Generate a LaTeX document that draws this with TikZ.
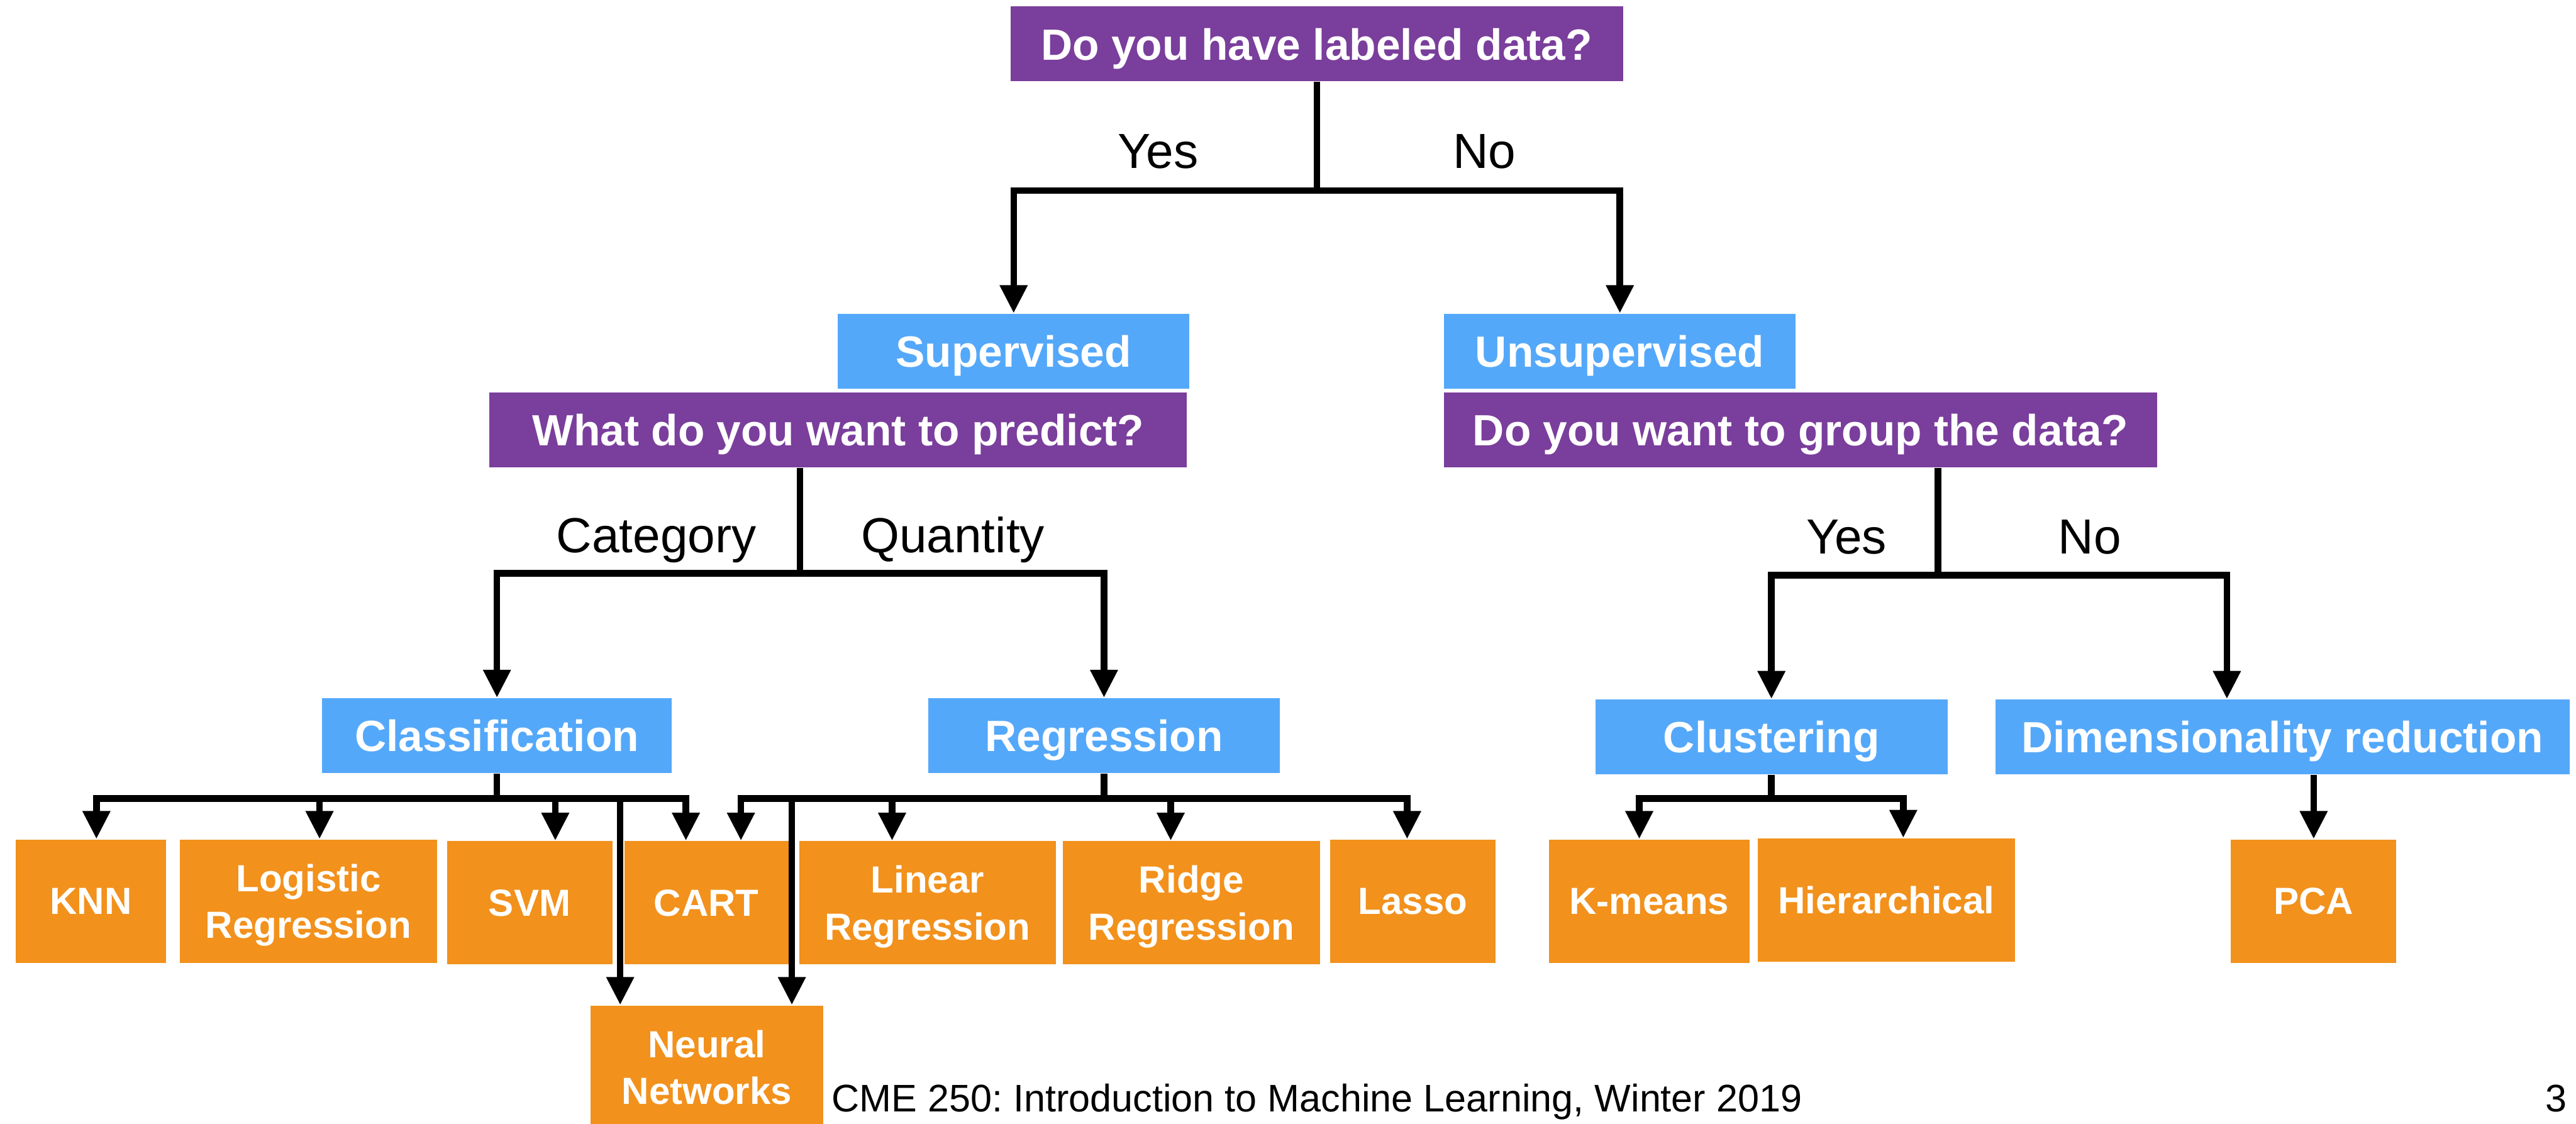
\documentclass[tikz,border=0pt]{standalone}
\usepackage{fontspec}
\setmainfont{Liberation Sans}
\usetikzlibrary{arrows.meta}
\definecolor{qpurple}{HTML}{7A3E9C}
\definecolor{catblue}{HTML}{54A8FA}
\definecolor{algorange}{HTML}{F2911C}
\frenchspacing
\begin{document}
\begin{tikzpicture}[x=0.5pt,y=-0.5pt,
  sz/.style 2 args={minimum width={#1*0.5pt},minimum height={#2*0.5pt}},
  basebox/.style={inner sep=0pt, text=white, text depth=0pt, align=center},
  question/.style={basebox, fill=qpurple, font=\fontsize{13.3}{16}\bfseries},
  category/.style={basebox, fill=catblue, font=\fontsize{13.3}{16}\bfseries},
  method/.style={basebox, fill=algorange, font=\fontsize{11.5}{14.25}\bfseries},
  branch/.style={anchor=base, inner sep=0pt, font=\fontsize{15}{18}\selectfont},
  link/.style={line width=2pt, draw=black},
  arr/.style={link, -{Triangle[width=8pt,length=8.5pt]}},
  arr2/.style={link, {Triangle[width=8pt,length=8.5pt]}-{Triangle[width=8pt,length=8.5pt]}},
]
\useasboundingbox (0,0) rectangle (1568,684);

% questions and categories
\node[question, sz={373}{45.5}] (top) at (801.5,26.75) {Do you have labeled data?};
\node[category, sz={214}{45.5}] (sup) at (617,213.75) {Supervised};
\node[category, sz={214}{45.5}] (unsup) at (986,213.75) {Unsupervised};
\node[question, sz={424.5}{45.5}] (predict) at (510.25,261.75) {What do you want to predict?};
\node[question, sz={434}{45.5}] (group) at (1096,261.75) {Do you want to group the data?};
\node[category, sz={213}{45.5}] (class) at (302.5,447.75) {Classification};
\node[category, sz={214}{45.5}] (regr) at (672,447.75) {Regression};
\node[category, sz={214.5}{45.5}] (clust) at (1078.25,448.5) {Clustering};
\node[category, sz={349.5}{45.5}] (dimred) at (1389.25,448.5) {Dimensionality reduction};

% methods
\node[method, sz={91.4}{75}] (knn) at (55.3,548.5) {KNN};
\node[method, sz={156.5}{75}] (logreg) at (187.75,548.5) {Logistic\\Regression};
\node[method, sz={100.7}{75}] (svm) at (322.35,549.5) {SVM};
\node[method, sz={100}{75}] (cart) at (430,549.5) {CART};
\node[method, sz={156.3}{75}] (linreg) at (564.55,549.5) {Linear\\Regression};
\node[method, sz={156.4}{75}] (ridge) at (725.2,549.5) {Ridge\\Regression};
\node[method, sz={101}{75}] (lasso) at (860,548.5) {Lasso};
\node[method, sz={141.5}{75}] (nn) at (430.25,649.5) {Neural\\Networks};
\node[method, sz={122.3}{75}] (kmeans) at (1003.85,548.5) {K-means};
\node[method, sz={156.4}{75}] (hier) at (1148.2,547.8) {Hierarchical};
\node[method, sz={100.6}{75}] (pca) at (1408.3,548.5) {PCA};

% labeled data?
\coordinate (yn) at (801.5,116);
\draw[link] (top.south) -- (yn);
\draw[arr2] (sup.north) |- (yn) -| (unsup.north);
\node[branch] (yes1) at (705,102.4) {Yes};
\node[branch] (no1) at (903.5,102.4) {No};

% what to predict?
\coordinate (cq) at (487,349);
\draw[link] (cq |- predict.south) -- (cq);
\draw[arr2] (class.north) |- (cq) -| (regr.north);
\node[branch] (catlbl) at (399.5,336.2) {Category};
\node[branch] (quantlbl) at (580,336.2) {Quantity};

% group the data?
\coordinate (gq) at (1179.7,350);
\coordinate (dr) at (1355.5,350);
\draw[link] (gq |- group.south) -- (gq);
\draw[arr2] (clust.north) |- (gq) -- (dr) -- (dr |- dimred.north);
\node[branch] (yes2) at (1124,337) {Yes};
\node[branch] (no2) at (1272,337) {No};

% classification methods
\coordinate (kc) at (58.7,486);
\coordinate (lc) at (194.5,486);
\coordinate (sc) at (338,486);
\coordinate (nc1) at (377.5,486);
\coordinate (cc1) at (417.5,486);
\draw[link] (class.south) -- (class.south |- kc);
\draw[arr2] (kc |- knn.north) -- (kc) -- (cc1) -- (cc1 |- cart.north);
\draw[arr] (lc) -- (lc |- logreg.north);
\draw[arr] (sc) -- (sc |- svm.north);
\draw[arr] (nc1) -- (nc1 |- nn.north);

% regression methods
\coordinate (cc2) at (451,486);
\coordinate (nc2) at (482,486);
\coordinate (lrc) at (543,486);
\coordinate (rc) at (712.6,486);
\coordinate (lac) at (856.5,486);
\draw[link] (regr.south) -- (regr.south |- cc2);
\draw[arr2] (cc2 |- cart.north) -- (cc2) -- (lac) -- (lac |- lasso.north);
\draw[arr] (nc2) -- (nc2 |- nn.north);
\draw[arr] (lrc) -- (lrc |- linreg.north);
\draw[arr] (rc) -- (rc |- ridge.north);

% clustering methods
\coordinate (kmc) at (997.8,486);
\coordinate (hc) at (1158.5,486);
\draw[link] (clust.south) -- (clust.south |- kmc);
\draw[arr2] (kmc |- kmeans.north) -- (kmc) -- (hc) -- (hc |- hier.north);

% dimensionality reduction
\draw[arr] (pca.north |- dimred.south) -- (pca.north);

% footer
\node[anchor=base west, inner sep=0pt, font=\fontsize{11.7}{14}\selectfont] (footer) at (506,676.7) {CME 250: Introduction to Machine Learning, Winter 2019};
\node[anchor=base, inner sep=0pt, font=\fontsize{11.7}{14}\selectfont] (pagenum) at (1556,676.7) {3};
\end{tikzpicture}
\end{document}
